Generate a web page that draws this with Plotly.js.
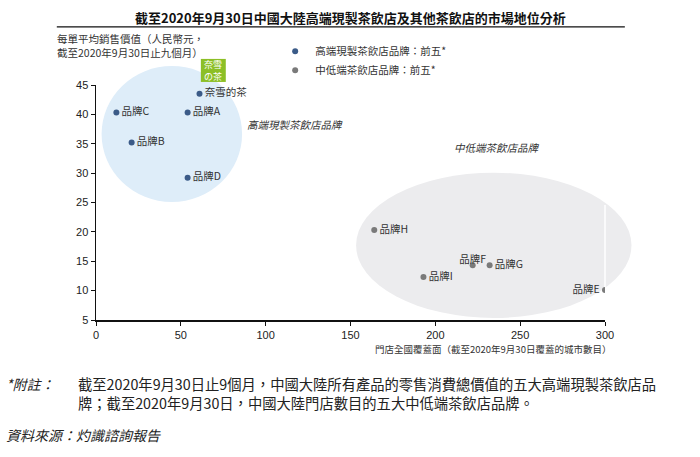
<!DOCTYPE html>
<html>
<head>
<meta charset="utf-8">
<script src="https://cdn.plot.ly/plotly-3.0.1.min.js"></script>
<style>
  body { margin: 0; background: #fff; }
  #plot { width: 700px; height: 457px; }
</style>
</head>
<body>
<div id="plot"></div>
<script>
// high-end brands: cities covered vs average order value
var highBrands = ["奈雪的茶", "品牌A", "品牌B", "品牌C", "品牌D"];
var highCities = [61, 54, 21, 12, 54];
var highPrice = [43.5, 40.3, 35.2, 40.3, 29.2];

// mid/low-end brands
var midBrands = ["品牌E", "品牌F", "品牌G", "品牌H", "品牌I"];
var midCities = [300, 222, 232, 164, 193];
var midPrice = [10.1, 14.3, 14.3, 20.3, 12.3];

var legendNames = ["高端現製茶飲店品牌：前五*", "中低端茶飲店品牌：前五*"];

var cjk = "Noto Sans CJK TC, Noto Sans CJK SC, sans-serif";
var blue = "#3b5b88";
var grey = "#7a7a7a";
var gap = "\u2002";

function labelPos(name) {
  if (name == "品牌E") return "middle left";
  if (name == "品牌F") return "top center";
  return "middle right";
}

function labelText(name) {
  var pos = labelPos(name);
  if (pos == "middle right") return gap + name;
  if (pos == "middle left") return name + gap;
  return name;
}

var data = [
  {x: highCities, y: highPrice, mode: "markers", type: "scatter", name: legendNames[0],
   marker: {color: blue, size: 6}, hoverinfo: "none"},
  {x: midCities, y: midPrice, mode: "markers", type: "scatter", name: legendNames[1],
   marker: {color: grey, size: 6}, hoverinfo: "none"},
  {x: highCities, y: highPrice, mode: "text", type: "scatter", showlegend: false,
   text: highBrands.map(labelText), textposition: highBrands.map(labelPos),
   textfont: {family: cjk, size: 10.5, color: "#333"}, hoverinfo: "none"},
  {x: midCities, y: midPrice, mode: "text", type: "scatter", showlegend: false,
   text: midBrands.map(labelText), textposition: midBrands.map(labelPos),
   textfont: {family: cjk, size: 10.5, color: "#333"}, hoverinfo: "none"}
];

var layout = {
  width: 700, height: 457,
  margin: {l: 96, r: 95, t: 85, b: 137},
  paper_bgcolor: "#fff", plot_bgcolor: "rgba(0,0,0,0)",
  font: {family: cjk, color: "#222"},
  showlegend: true,
  legend: {x: 0.352, y: 1.205, xanchor: "left", yanchor: "top",
           font: {family: cjk, size: 10.5, color: "#333"}, bgcolor: "rgba(0,0,0,0)"},
  xaxis: {range: [0, 300], dtick: 50, showgrid: false, zeroline: false,
          showline: true, linecolor: "#111", linewidth: 1.5,
          ticks: "outside", ticklen: 4, tickcolor: "#111",
          tickfont: {family: "Liberation Sans, Arial", size: 11, color: "#222"}},
  yaxis: {range: [5, 45], dtick: 5, showgrid: false, zeroline: false,
          showline: true, linecolor: "#111", linewidth: 1.5,
          ticks: "outside", ticklen: 4, tickcolor: "#111",
          tickfont: {family: "Liberation Sans, Arial", size: 11, color: "#222"}},
  shapes: [
    {type: "circle", xref: "paper", yref: "paper", layer: "below",
     x0: 0.011, x1: 0.287, y0: 0.502, y1: 1.081,
     fillcolor: "#deedf9", line: {width: 0}},
    {type: "circle", xref: "paper", yref: "paper", layer: "below",
     x0: 0.511, x1: 1.052, y0: 0.009, y1: 0.627,
     fillcolor: "#ececee", line: {width: 0}},
    {type: "line", xref: "paper", yref: "paper", layer: "below",
     x0: 1.0, x1: 1.0, y0: 0.128, y1: 0.489,
     line: {color: "#fff", width: 1.5}},
    {type: "rect", xref: "paper", yref: "paper",
     x0: 0.206, x1: 0.255, y0: 1.013, y1: 1.111,
     fillcolor: "#8cbf26", line: {width: 0}},
    {type: "line", xref: "paper", yref: "paper",
     x0: -0.077, x1: 1.039, y0: 1.247, y1: 1.247,
     line: {color: "#111", width: 1.2}}
  ],
  annotations: [
    {text: "<b>截至2020年9月30日中國大陸高端現製茶飲店及其他茶飲店的市場地位分析</b>",
     xref: "paper", yref: "paper", x: 0.5, y: 1.289, xanchor: "center", yanchor: "middle",
     showarrow: false, font: {family: cjk, size: 13, color: "#111"}},
    {text: "每單平均銷售價值（人民幣元，<br>截至2020年9月30日止九個月）",
     xref: "paper", yref: "paper", x: -0.08, y: 1.24, xanchor: "left", yanchor: "top",
     align: "left", showarrow: false, font: {family: cjk, size: 10.5, color: "#333"}},
    {text: "奈雪<br>の茶", xref: "paper", yref: "paper", x: 0.2305, y: 1.062,
     xanchor: "center", yanchor: "middle", showarrow: false,
     font: {family: cjk, size: 9, color: "#fff"}},
    {text: "<i>高端現製茶飲店品牌</i>", xref: "paper", yref: "paper", x: 0.391, y: 0.83,
     xanchor: "center", yanchor: "middle", showarrow: false,
     font: {family: cjk, size: 10.5, color: "#333"}},
    {text: "<i>中低端茶飲店品牌</i>", xref: "paper", yref: "paper", x: 0.788, y: 0.736,
     xanchor: "center", yanchor: "middle", showarrow: false,
     font: {family: cjk, size: 10.5, color: "#333"}},
    {text: "門店全國覆蓋面（截至2020年9月30日覆蓋的城市數目）",
     xref: "paper", yref: "paper", x: 1.015, y: -0.122, xanchor: "right", yanchor: "middle",
     showarrow: false, font: {family: cjk, size: 9.5, color: "#333"}},
    {text: "<i>*附註：</i>", xref: "paper", yref: "paper", x: -0.181, y: -0.272,
     xanchor: "left", yanchor: "middle", showarrow: false,
     font: {family: cjk, size: 14, color: "#222"}},
    {text: "截至2020年9月30日止9個月，中國大陸所有產品的零售消費總價值的五大高端現製茶飲店品",
     xref: "paper", yref: "paper", x: -0.04, y: -0.272, xanchor: "left", yanchor: "middle",
     showarrow: false, font: {family: cjk, size: 14.3, color: "#222"}},
    {text: "牌；截至2020年9月30日，中國大陸門店數目的五大中低端茶飲店品牌。",
     xref: "paper", yref: "paper", x: -0.04, y: -0.349, xanchor: "left", yanchor: "middle",
     showarrow: false, font: {family: cjk, size: 14.3, color: "#222"}},
    {text: "<i>資料來源：灼識諮詢報告</i>", xref: "paper", yref: "paper", x: -0.181, y: -0.49,
     xanchor: "left", yanchor: "middle", showarrow: false,
     font: {family: cjk, size: 14, color: "#222"}}
  ]
};

Plotly.newPlot("plot", data, layout, {displayModeBar: false, staticPlot: true});
</script>
</body>
</html>
